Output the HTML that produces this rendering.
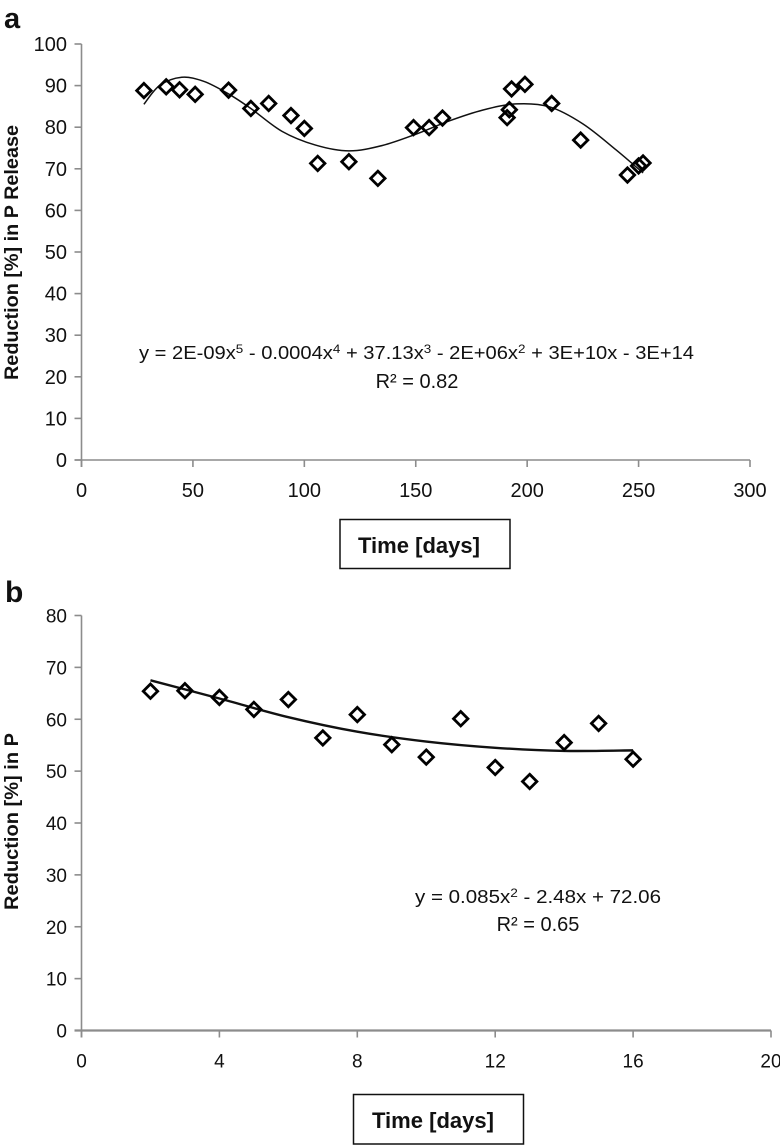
<!DOCTYPE html>
<html lang="en">
<head>
<meta charset="utf-8">
<title>Reduction in P Release over Time</title>
<style>
html,body{margin:0;padding:0;background:#fff;width:780px;height:1145px;overflow:hidden}
svg{display:block}
text{font-family:"Liberation Sans",sans-serif;fill:#111}
</style>
</head>
<body>
<svg id="fig" width="780" height="1145" viewBox="0 0 780 1145" xmlns="http://www.w3.org/2000/svg">
  <text x="4" y="28" font-size="29" font-weight="bold">a</text>
  <text x="5" y="602" font-size="30" font-weight="bold">b</text>

  <text transform="translate(18,380) rotate(-90)" font-size="19" font-weight="bold" textLength="255" lengthAdjust="spacingAndGlyphs">Reduction [%] in P Release</text>
  <text transform="translate(18,910) rotate(-90)" font-size="19" font-weight="bold" textLength="177" lengthAdjust="spacingAndGlyphs">Reduction [%] in P</text>

  <text x="139" y="359" font-size="18" textLength="555" lengthAdjust="spacingAndGlyphs">y = 2E-09x<tspan dy="-6" font-size="12">5</tspan><tspan dy="6"> - 0.0004x</tspan><tspan dy="-6" font-size="12">4</tspan><tspan dy="6"> + 37.13x</tspan><tspan dy="-6" font-size="12">3</tspan><tspan dy="6"> - 2E+06x</tspan><tspan dy="-6" font-size="12">2</tspan><tspan dy="6"> + 3E+10x - 3E+14</tspan></text>
  <text x="417" y="388" font-size="20" text-anchor="middle">R² = 0.82</text>

  <text x="415" y="903" font-size="18" textLength="246" lengthAdjust="spacingAndGlyphs">y = 0.085x<tspan dy="-6" font-size="12">2</tspan><tspan dy="6"> - 2.48x + 72.06</tspan></text>
  <text x="538" y="931" font-size="20" text-anchor="middle">R² = 0.65</text>

  <g>
    <rect x="340" y="519.5" width="170" height="49" fill="#fff" stroke="#111" stroke-width="1.5"/>
    <text x="358" y="553" font-size="22" font-weight="bold" textLength="122" lengthAdjust="spacingAndGlyphs">Time [days]</text>
  </g>
  <g>
    <rect x="353.5" y="1094.5" width="170" height="49.5" fill="#fff" stroke="#111" stroke-width="1.5"/>
    <text x="372" y="1128" font-size="22" font-weight="bold" textLength="122" lengthAdjust="spacingAndGlyphs">Time [days]</text>
  </g>

  <g id="chart-a"></g>
  <g id="chart-b"></g>
</svg>

<script>
// Panel a values
const xTicksA = [0, 50, 100, 150, 200, 250, 300];
const yTicksA = [0, 10, 20, 30, 40, 50, 60, 70, 80, 90, 100];
const daysA = [28, 38, 44, 51, 66, 76, 84, 94, 100, 106, 120, 133, 149, 156, 162, 191, 192, 193, 199, 211, 224, 245, 250, 252];
const reductionA = [88.8, 89.7, 89, 87.9, 88.9, 84.5, 85.7, 82.8, 79.7, 71.3, 71.7, 67.7, 79.9, 79.9, 82.2, 82.3, 84.2, 89.2, 90.3, 85.7, 76.9, 68.5, 70.7, 71.4];
const trendDaysA = [28, 35, 45, 55, 66, 76, 90, 105, 120, 135, 150, 165, 180, 195, 210, 225, 240, 252];
const trendValuesA = [85.5, 90, 92, 91, 88, 84.5, 79, 75.7, 74.3, 75.6, 78.3, 81.5, 84.1, 85.6, 84.9, 80.8, 74.5, 69];

// Panel b values
const xTicksB = [0, 4, 8, 12, 16, 20];
const yTicksB = [0, 10, 20, 30, 40, 50, 60, 70, 80];
const daysB = [2, 3, 4, 5, 6, 7, 8, 9, 10, 11, 12, 13, 14, 15, 16];
const reductionB = [65.4, 65.5, 64.2, 61.9, 63.8, 56.4, 60.9, 55.1, 52.7, 60.1, 50.7, 48, 55.5, 59.2, 52.3];
const trendDaysB = [2, 4, 6, 8, 10, 12, 14, 16];
const trendValuesB = [67.5, 64, 60.4, 57.6, 55.7, 54.5, 53.9, 54];

const SVG_NS = 'http://www.w3.org/2000/svg';

function make(tag, attrs, parent) {
  const el = document.createElementNS(SVG_NS, tag);
  for (const k in attrs) el.setAttribute(k, attrs[k]);
  parent.appendChild(el);
  return el;
}

function smoothPath(pts) {
  let d = 'M' + pts[0][0].toFixed(2) + ' ' + pts[0][1].toFixed(2);
  for (let i = 0; i < pts.length - 1; i++) {
    const p0 = pts[Math.max(i - 1, 0)];
    const p1 = pts[i];
    const p2 = pts[i + 1];
    const p3 = pts[Math.min(i + 2, pts.length - 1)];
    const c1x = p1[0] + (p2[0] - p0[0]) / 6;
    const c1y = p1[1] + (p2[1] - p0[1]) / 6;
    const c2x = p2[0] - (p3[0] - p1[0]) / 6;
    const c2y = p2[1] - (p3[1] - p1[1]) / 6;
    d += 'C' + c1x.toFixed(2) + ' ' + c1y.toFixed(2) + ' ' + c2x.toFixed(2) + ' ' + c2y.toFixed(2) + ' ' + p2[0].toFixed(2) + ' ' + p2[1].toFixed(2);
  }
  return d;
}

function drawChart(cfg) {
  const root = document.getElementById(cfg.id);
  const sx = v => cfg.x0 + (v - cfg.xMin) * (cfg.x1 - cfg.x0) / (cfg.xMax - cfg.xMin);
  const sy = v => cfg.y0 + (v - cfg.yMin) * (cfg.y1 - cfg.y0) / (cfg.yMax - cfg.yMin);
  const axisStyle = { stroke: '#8c8c8c', 'stroke-width': 1.6, fill: 'none' };

  const yAxis = make('line', Object.assign({ x1: cfg.x0, x2: cfg.x0, y1: sy(cfg.yMin) + 7, y2: sy(cfg.yMax) }, axisStyle), root);
  
  

  const xAxis = make('line', Object.assign({ x1: cfg.x0 - 7, x2: sx(cfg.xMax), y1: cfg.y0, y2: cfg.y0 }, axisStyle), root);
  xAxis.setAttribute('stroke-width', cfg.xAxisWidth);
  
  

  cfg.yTicks.forEach(v => {
    const tick = make('line', Object.assign({ x1: cfg.x0 - 7, x2: cfg.x0, y1: sy(v), y2: sy(v) }, axisStyle), root);
    
    
    const label = make('text', { x: cfg.x0 - 14.5, y: sy(v) + 7, 'font-size': cfg.fontSize, 'text-anchor': 'end' }, root);
    label.textContent = String(v);
    
    
  });

  cfg.xTicks.forEach(v => {
    const tick = make('line', Object.assign({ x1: sx(v), x2: sx(v), y1: cfg.y0, y2: cfg.y0 + 7 }, axisStyle), root);
    
    
    const label = make('text', { x: sx(v), y: cfg.y0 + 37, 'font-size': cfg.fontSize, 'text-anchor': 'middle' }, root);
    label.textContent = String(v);
    
    
  });

  const pts = cfg.trendX.map((v, i) => [sx(v), sy(cfg.trendY[i])]);
  const trend = make('path', { d: smoothPath(pts), fill: 'none', stroke: '#111', 'stroke-width': cfg.trendWidth }, root);
  
  

  const r = 7.2;
  cfg.xs.forEach((v, i) => {
    const cx = sx(v);
    const cy = sy(cfg.ys[i]);
    const d = 'M' + cx + ' ' + (cy - r) + 'L' + (cx + r) + ' ' + cy + 'L' + cx + ' ' + (cy + r) + 'L' + (cx - r) + ' ' + cy + 'Z';
    const point = make('path', { d: d, fill: 'none', stroke: '#000', 'stroke-width': 2.8 }, root);
    
    
  });
}

drawChart({
  id: 'chart-a', x0: 81.5, x1: 750, y0: 460, y1: 44,
  xMin: 0, xMax: 300, yMin: 0, yMax: 100,
  xTicks: xTicksA, yTicks: yTicksA, xs: daysA, ys: reductionA,
  trendX: trendDaysA, trendY: trendValuesA, trendWidth: 1.5, xAxisWidth: 1.6, fontSize: 20
});

drawChart({
  id: 'chart-b', x0: 81.5, x1: 771, y0: 1030.5, y1: 615.5,
  xMin: 0, xMax: 20, yMin: 0, yMax: 80,
  xTicks: xTicksB, yTicks: yTicksB, xs: daysB, ys: reductionB,
  trendX: trendDaysB, trendY: trendValuesB, trendWidth: 2.4, xAxisWidth: 2.2, fontSize: 19
});
</script>
</body>
</html>
